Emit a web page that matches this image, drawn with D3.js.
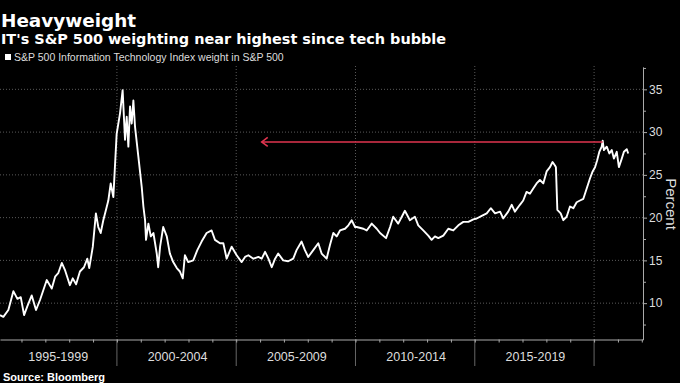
<!doctype html>
<html>
<head>
<meta charset="utf-8">
<script src="https://d3js.org/d3.v7.min.js"></script>
<style>
    body { margin: 0; background: #000; }
    svg { display: block; background: #000; }
</style>
</head>
<body>
<svg width="680" height="383"></svg>
<script>

    // decimal years and IT weight (%)
    var years = [1995.10, 1995.24, 1995.45, 1995.66, 1995.83, 1995.97, 1996.11, 1996.24, 1996.43, 1996.61,
        1996.78, 1997.06, 1997.27, 1997.41, 1997.54, 1997.69, 1997.82, 1998.03, 1998.15, 1998.29,
        1998.45, 1998.62, 1998.76, 1998.84, 1998.99, 1999.12, 1999.22, 1999.32, 1999.43, 1999.54,
        1999.64, 1999.74, 1999.85, 1999.99, 2000.13, 2000.24, 2000.34, 2000.41, 2000.48, 2000.55,
        2000.62, 2000.69, 2000.76, 2000.90, 2001.04, 2001.11, 2001.18, 2001.22, 2001.32, 2001.42,
        2001.53, 2001.67, 2001.73, 2001.81, 2001.94, 2002.09, 2002.22, 2002.36, 2002.51, 2002.64,
        2002.76, 2002.85, 2002.99, 2003.20, 2003.37, 2003.55, 2003.76, 2003.97, 2004.11, 2004.32,
        2004.46, 2004.60, 2004.81, 2005.02, 2005.23, 2005.37, 2005.51, 2005.72, 2005.93, 2006.07,
        2006.21, 2006.35, 2006.49, 2006.63, 2006.76, 2006.97, 2007.18, 2007.39, 2007.53, 2007.74,
        2007.88, 2008.02, 2008.23, 2008.44, 2008.58, 2008.79, 2008.93, 2009.07, 2009.21, 2009.35,
        2009.56, 2009.70, 2009.84, 2009.98, 2010.05, 2010.33, 2010.47, 2010.68, 2010.89, 2011.03,
        2011.28, 2011.45, 2011.58, 2011.79, 2011.94, 2012.07, 2012.28, 2012.49, 2012.63, 2012.84,
        2013.05, 2013.19, 2013.33, 2013.47, 2013.68, 2013.89, 2014.10, 2014.31, 2014.52, 2014.73,
        2014.94, 2015.08, 2015.29, 2015.50, 2015.67, 2015.85, 2016.06, 2016.19, 2016.40, 2016.55,
        2016.68, 2016.89, 2017.03, 2017.17, 2017.31, 2017.45, 2017.59, 2017.73, 2017.87, 2018.01,
        2018.15, 2018.26, 2018.36, 2018.40, 2018.46, 2018.60, 2018.71, 2018.85, 2018.99, 2019.13,
        2019.27, 2019.41, 2019.55, 2019.69, 2019.83, 2019.94, 2020.04, 2020.13, 2020.22, 2020.32,
        2020.36, 2020.41, 2020.53, 2020.64, 2020.74, 2020.83, 2020.95, 2021.04, 2021.16, 2021.25,
        2021.37, 2021.43];

    var weights = [8.6, 8.4, 9.2, 11.4, 10.5, 10.7, 8.6, 9.6, 10.9, 9.2,
        10.4, 12.7, 11.7, 13.1, 13.5, 14.7, 13.9, 12.1, 12.9, 12.2,
        13.7, 14.2, 15.2, 14.1, 16.6, 20.5, 18.9, 18.2, 19.7, 20.9,
        22.0, 24.0, 22.4, 29.8, 32.2, 34.9, 29.1, 31.8, 28.3, 33.0,
        31.0, 33.7, 30.6, 27.1, 23.6, 21.3, 19.7, 17.4, 19.3, 17.8,
        18.2, 15.8, 14.2, 16.6, 18.9, 17.8, 15.8, 14.8, 14.1, 13.7,
        12.9, 15.6, 14.8, 15.0, 16.2, 17.2, 18.2, 18.5, 17.4, 17.0,
        17.0, 15.2, 16.6, 15.6, 14.8, 15.4, 15.6, 15.2, 15.4, 15.2,
        16.0, 15.2, 14.2, 15.2, 15.8, 15.0, 14.9, 15.2, 16.2, 17.2,
        16.2, 15.4, 16.2, 17.0, 15.8, 15.2, 16.8, 18.2, 17.8, 18.5,
        18.7, 19.1, 19.7, 18.9, 18.9, 18.7, 18.5, 19.3, 18.7, 18.2,
        17.6, 18.9, 20.1, 19.3, 20.1, 20.8, 19.7, 20.1, 19.1, 18.5,
        17.9, 17.4, 17.8, 17.6, 17.9, 18.7, 18.5, 19.1, 19.5, 19.5,
        19.8, 19.9, 20.2, 20.5, 21.1, 20.5, 20.7, 19.9, 20.7, 21.5,
        20.7, 21.5, 22.0, 23.0, 22.8, 23.4, 24.0, 24.4, 24.0, 25.4,
        25.9, 26.5, 26.1, 25.9, 20.9, 20.5, 19.7, 20.1, 21.3, 21.1,
        21.8, 22.0, 22.2, 23.4, 24.6, 25.4, 25.9, 26.7, 27.7, 28.3,
        29.0, 27.9, 28.3, 27.5, 27.9, 26.9, 27.7, 25.9, 26.9, 27.7,
        28.0, 27.5];

    var periodStarts = [2000, 2005, 2010, 2015, 2020];
    var periodLabels = ["1995-1999", "2000-2004", "2005-2009", "2010-2014", "2015-2019"];
    var yTicks = [10, 15, 20, 25, 30, 35];
    var yMinorTicks = [7.5, 12.5, 17.5, 22.5, 27.5, 32.5, 37.5];

    // arrow back from the 2020 high to the same level in 2006
    var arrowFrom = 2020.36, arrowTo = 2006.07, arrowLevel = 28.85;

    var data = years.map(function(d, i) { return {year: d, value: weights[i]}; });

    var svg = d3.select("svg"),
        plotRight = 643,
        plotTop = 66,
        plotBottom = 339.5;

    var x = d3.scaleLinear().domain([1995.1, 2022.05]).range([0, plotRight]),
        y = d3.scaleLinear().domain([5.75, 37.6]).range([plotBottom, 67.1]);

    // titles
    svg.append("text")
        .attr("x", 1).attr("y", 27)
        .attr("fill", "#fff")
        .attr("font-family", "DejaVu Sans")
        .attr("font-weight", "bold")
        .attr("font-size", "18.4px")
        .text("Heavyweight");

    svg.append("text")
        .attr("x", 1).attr("y", 44)
        .attr("fill", "#fff")
        .attr("font-family", "DejaVu Sans")
        .attr("font-weight", "bold")
        .attr("font-size", "14.45px")
        .text("IT's S&P 500 weighting near highest since tech bubble");

    // legend
    svg.append("rect")
        .attr("x", 5).attr("y", 54)
        .attr("width", 6).attr("height", 6)
        .attr("fill", "#fff");

    svg.append("text")
        .attr("x", 14).attr("y", 61)
        .attr("fill", "#ddd")
        .attr("font-family", "Liberation Sans")
        .attr("font-size", "10.5px")
        .text("S&P 500 Information Technology Index weight in S&P 500");

    // dotted grid
    svg.append("g")
        .selectAll("line")
        .data(yTicks)
        .enter().append("line")
        .attr("x1", 0).attr("x2", plotRight)
        .attr("y1", function(d) { return y(d); })
        .attr("y2", function(d) { return y(d); })
        .attr("stroke", "#5a5a5a")
        .attr("stroke-dasharray", "1,2");

    svg.append("g")
        .selectAll("line")
        .data(periodStarts)
        .enter().append("line")
        .attr("x1", function(d) { return x(d); })
        .attr("x2", function(d) { return x(d); })
        .attr("y1", plotTop).attr("y2", plotBottom)
        .attr("stroke", "#5a5a5a")
        .attr("stroke-dasharray", "1,2");

    // solid separators under the axis
    svg.append("g")
        .selectAll("line")
        .data(periodStarts)
        .enter().append("line")
        .attr("x1", function(d) { return x(d); })
        .attr("x2", function(d) { return x(d); })
        .attr("y1", plotBottom).attr("y2", 366)
        .attr("stroke", "#666");

    // bottom axis, a tick every year
    var xAxis = svg.append("g")
        .attr("transform", "translate(0," + plotBottom + ")")
        .call(d3.axisBottom(x).tickValues(d3.range(1996, 2023)).tickSize(3).tickSizeOuter(0).tickFormat(""));
    xAxis.selectAll("path, line").attr("stroke", "#aaa");

    svg.append("g")
        .selectAll("text")
        .data(periodLabels)
        .enter().append("text")
        .attr("x", function(d, i) { return (x(1995 + 5 * i) + x(2000 + 5 * i)) / 2 + 1; })
        .attr("y", 361)
        .attr("text-anchor", "middle")
        .attr("fill", "#ddd")
        .attr("font-family", "Liberation Sans")
        .attr("font-size", "12.5px")
        .text(function(d) { return d; });

    // right axis
    var yMinor = svg.append("g")
        .attr("transform", "translate(" + plotRight + ",0)")
        .call(d3.axisRight(y).tickValues(yMinorTicks).tickSize(3).tickSizeOuter(0).tickFormat(""));
    yMinor.selectAll("path, line").attr("stroke", "#aaa");

    var yAxis = svg.append("g")
        .attr("transform", "translate(" + plotRight + ",0)")
        .call(d3.axisRight(y).tickValues(yTicks).tickSize(4).tickSizeOuter(0).tickPadding(2));
    yAxis.selectAll("path, line").attr("stroke", "#aaa");
    yAxis.selectAll("text")
        .attr("fill", "#ddd")
        .attr("font-family", "Liberation Sans")
        .attr("font-size", "12px");

    svg.append("text")
        .attr("transform", "translate(666," + 204 + ") rotate(90)")
        .attr("text-anchor", "middle")
        .attr("fill", "#ddd")
        .attr("font-family", "Liberation Sans")
        .attr("font-size", "15px")
        .text("Percent");

    // the series
    var line = d3.line()
        .x(function(d) { return x(d.year); })
        .y(function(d) { return y(d.value); });

    svg.append("path")
        .datum(data)
        .attr("d", line)
        .attr("fill", "none")
        .attr("stroke", "#fff")
        .attr("stroke-width", 1.9)
        .attr("stroke-linejoin", "round");

    // red arrow
    var ay = y(arrowLevel), ax = x(arrowTo);
    svg.append("line")
        .attr("x1", x(arrowFrom)).attr("x2", ax)
        .attr("y1", ay).attr("y2", ay)
        .attr("stroke", "#e0354f")
        .attr("stroke-width", 1.6);
    svg.append("path")
        .attr("d", "M" + (ax + 6) + "," + (ay - 4.5) + "L" + ax + "," + ay + "L" + (ax + 6) + "," + (ay + 4.5))
        .attr("fill", "none")
        .attr("stroke", "#e0354f")
        .attr("stroke-width", 1.6);

    // source
    svg.append("text")
        .attr("x", 3).attr("y", 381)
        .attr("fill", "#fff")
        .attr("font-family", "Liberation Sans")
        .attr("font-weight", "bold")
        .attr("font-size", "11px")
        .text("Source: Bloomberg");

</script>
</body>
</html>
